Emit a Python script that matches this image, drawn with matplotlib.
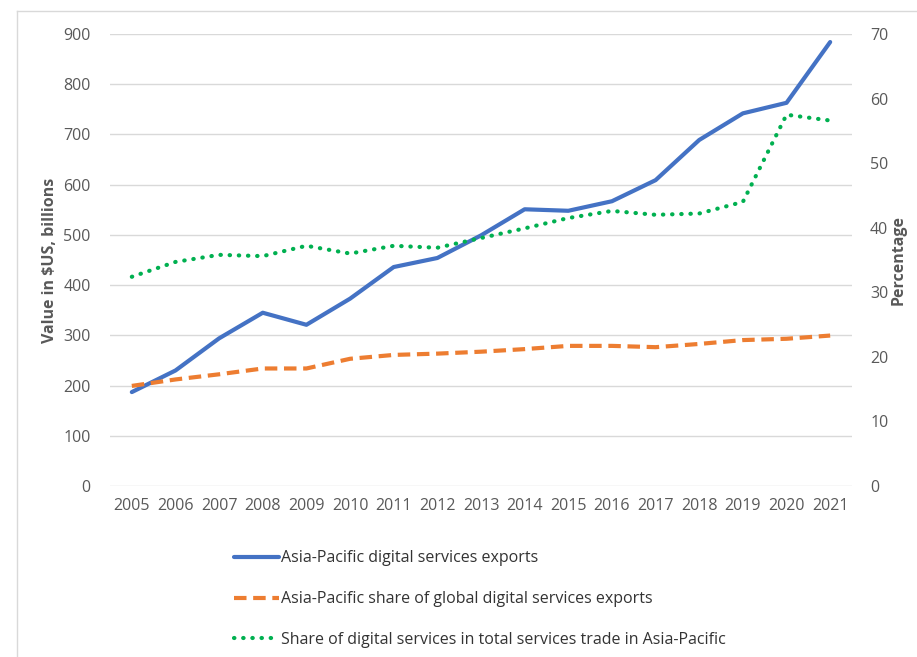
import matplotlib.pyplot as plt
from matplotlib.lines import Line2D

# Data
years = [str(y) for y in range(2005, 2022)]
exports = [187, 230, 294, 345, 321, 373, 436, 454, 499, 551, 548, 567, 609, 689, 742, 763, 884]
share_global = [15.5, 16.5, 17.3, 18.2, 18.2, 19.7, 20.3, 20.5, 20.8, 21.2, 21.7, 21.7, 21.5, 22.0, 22.6, 22.8, 23.3]
share_services = [32.4, 34.7, 35.8, 35.6, 37.2, 36.0, 37.2, 36.9, 38.4, 39.9, 41.5, 42.6, 42.0, 42.2, 44.0, 57.5, 56.6]

labels = [
    "Asia-Pacific digital services exports",
    "Asia-Pacific share of global digital services exports",
    "Share of digital services in total services trade in Asia-Pacific",
]

plt.rcParams["font.family"] = ["Open Sans", "DejaVu Sans"]
tick_color = "#595959"

fig = plt.figure(figsize=(9.17, 6.57), dpi=100)
W, H = 917, 657
ax = fig.add_axes([110 / W, 1 - 486 / H, (852 - 110) / W, (486 - 34) / H])
ax2 = ax.twinx()

x = list(range(len(years)))
l1, = ax.plot(x, exports, color="#4472C4", lw=3, solid_capstyle="round", zorder=3)
l2, = ax2.plot(x, share_global, color="#ED7D31", lw=3, linestyle=(0, (3, 1.6)),
               dash_capstyle="butt", zorder=3)
l3, = ax2.plot(x, share_services, color="#00B050", lw=3, linestyle=(0, (0.1, 2.1)),
               dash_capstyle="round", zorder=3)

ax.set_xlim(-0.5, len(years) - 0.5)
ax.set_ylim(0, 900)
ax.set_yticks(range(0, 901, 100))
ax2.set_ylim(0, 70)
ax2.set_yticks(range(0, 71, 10))
ax.set_xticks(x)
ax.set_xticklabels(years)

ax.grid(axis="y", color="#D9D9D9", lw=1)
ax.set_axisbelow(True)
for a in (ax, ax2):
    for s in a.spines.values():
        s.set_visible(False)
    a.tick_params(length=0, labelsize=11.5, labelcolor=tick_color)
ax.tick_params(axis="y", pad=14)
ax.tick_params(axis="x", pad=9)
ax2.tick_params(axis="y", pad=13)

ax.set_ylabel("Value in $US, billions", fontsize=11.5, fontweight="bold",
              color=tick_color, labelpad=4)
ax2.set_ylabel("Percentage", fontsize=11.5, fontweight="bold", color=tick_color,
               labelpad=2)

fig.legend([l1, l2, l3], labels, loc="upper left",
           bbox_to_anchor=(220 / W, 1 - 536 / H), frameon=False,
           fontsize=11.5, labelcolor="#333333", handlelength=2.8,
           handletextpad=0.15, labelspacing=1.55)

# chart border
border = "#D9D9D9"
fig.add_artist(Line2D([17 / W, 1], [1 - 11 / H, 1 - 11 / H], color=border, lw=1))
fig.add_artist(Line2D([17 / W, 17 / W], [1 - 11 / H, 0], color=border, lw=1))

fig.savefig("out.png", dpi=100)
